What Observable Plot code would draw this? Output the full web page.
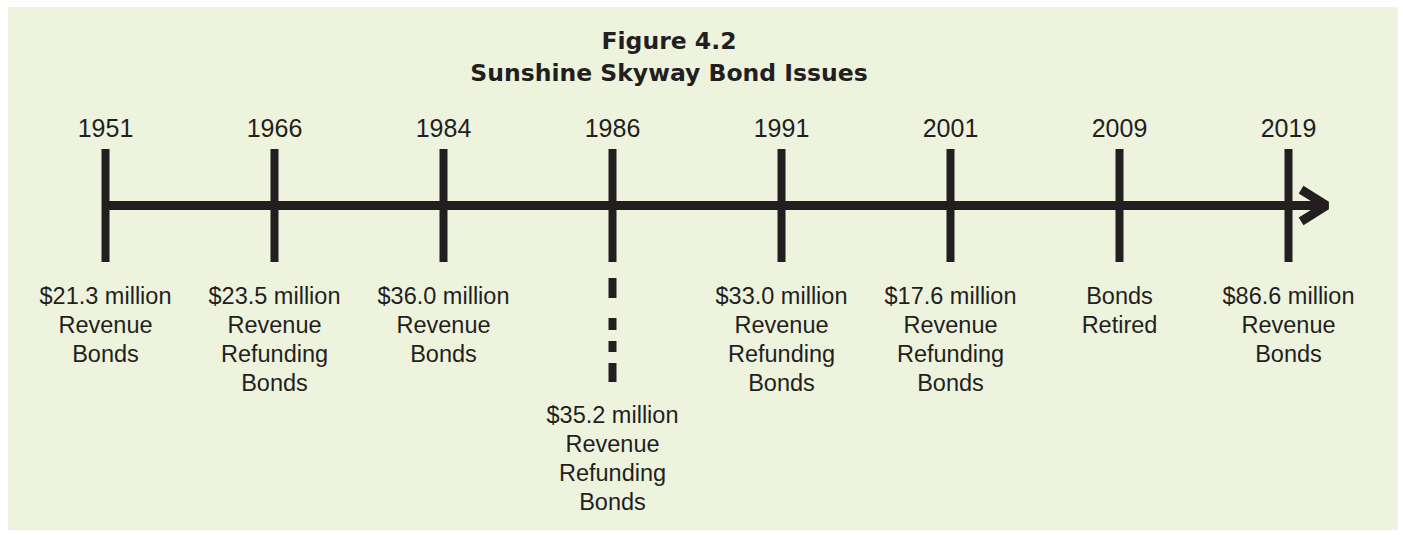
<!DOCTYPE html>
<html>
<head>
<meta charset="utf-8">
<script src="https://cdn.jsdelivr.net/npm/d3@7"></script>
<script src="https://cdn.jsdelivr.net/npm/@observablehq/plot@0.6"></script>
<style>
  html, body { margin: 0; padding: 0; background: #ffffff; }
  #chart { padding: 7px 0 0 8px; }
  #chart svg { display: block; }
</style>
</head>
<body>
<div id="chart"></div>
<script>
// ---- data ----
const title = "Figure 4.2";
const subtitle = "Sunshine Skyway Bond Issues";
const years = [1951, 1966, 1984, 1986, 1991, 2001, 2009, 2019];
const amounts = ["$21.3 million", "$23.5 million", "$36.0 million", "$35.2 million",
                 "$33.0 million", "$17.6 million", null, "$86.6 million"];
const bondKinds = ["Revenue\nBonds", "Revenue\nRefunding\nBonds", "Revenue\nBonds",
                   "Revenue\nRefunding\nBonds", "Revenue\nRefunding\nBonds",
                   "Revenue\nRefunding\nBonds", "Bonds\nRetired", "Revenue\nBonds"];
const leaderYears = [1986]; // issue whose note hangs below a dashed leader

// ---- table ----
const events = years.map((year, i) => ({
  i,
  year: String(year),
  label: amounts[i] ? amounts[i] + "\n" + bondKinds[i] : bondKinds[i],
  low: leaderYears.includes(year)
}));

// ---- layout (vertical rows, in px of the frame) ----
const W = 1390, H = 523;
const ink = "#231f20";
const row = {yearLabel: 121, tickTop: 142, tickBottom: 255, axis: 198,
             labelTop: 276, leaderTop: 271, leaderBottom: 375, lowLabelTop: 395};

const chart = Plot.plot({
  width: W,
  height: H,
  marginLeft: 97,
  marginRight: 110,
  marginTop: 0,
  marginBottom: 0,
  style: {background: "#eef3de", fontFamily: "'Liberation Sans', Arial, sans-serif", color: ink},
  x: {type: "linear", domain: [0, years.length - 1], axis: null},
  y: {type: "linear", domain: [0, H], range: [0, H], axis: null},
  marks: [
    // title
    Plot.text([title + "\n" + subtitle], {
      frameAnchor: "top", dx: -28, dy: 19, lineAnchor: "top",
      text: d => d, fontSize: 23.5, fontWeight: "bold", lineHeight: 1.36,
      fontFamily: "'DejaVu Sans', sans-serif", fill: ink
    }),
    // timeline arrow
    Plot.arrow([0], {
      x1: 0, x2: years.length - 1 + 0.225, y1: row.axis, y2: row.axis,
      stroke: ink, strokeWidth: 9, headAngle: 64, headLength: 5,
      strokeLinejoin: "miter", strokeLinecap: "butt"
    }),
    // ticks
    Plot.ruleX(events, {x: "i", y1: row.tickTop, y2: row.tickBottom, stroke: ink, strokeWidth: 8}),
    // dashed leader
    Plot.ruleX(events.filter(d => d.low), {
      x: "i", y1: row.leaderTop, y2: row.leaderBottom, stroke: ink, strokeWidth: 8,
      strokeDasharray: "20,20,12,11,11,11,19,100"
    }),
    // year labels
    Plot.text(events, {x: "i", y: row.yearLabel, text: "year", fontSize: 25, fill: ink, lineAnchor: "middle"}),
    // notes
    Plot.text(events.filter(d => !d.low), {
      x: "i", y: row.labelTop, text: "label", lineAnchor: "top",
      fontSize: 23.5, lineHeight: 1.234, fill: ink
    }),
    Plot.text(events.filter(d => d.low), {
      x: "i", y: row.lowLabelTop, text: "label", lineAnchor: "top",
      fontSize: 23.5, lineHeight: 1.234, fill: ink
    })
  ]
});
document.getElementById("chart").append(chart);
</script>
</body>
</html>
